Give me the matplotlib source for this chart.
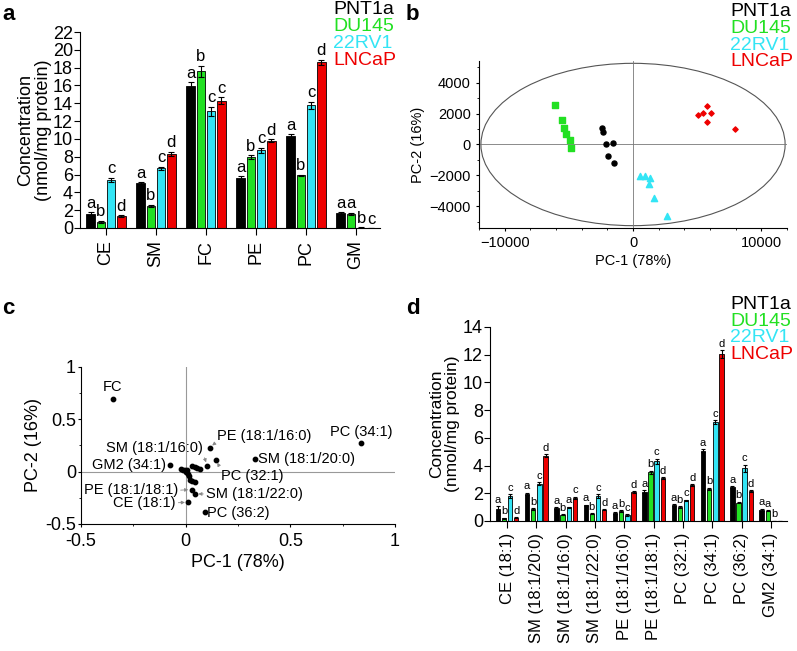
import matplotlib
matplotlib.use('Agg')
import matplotlib.pyplot as plt
import numpy as np
from matplotlib.patches import Ellipse

plt.rcParams['font.family'] = ['Liberation Sans', 'DejaVu Sans']

# ---------------------------
# Data
# ---------------------------
lines = ['PNT1a', 'DU145', '22RV1', 'LNCaP']
colors = ['#000000', '#22e022', '#33e5f5', '#ee0000']

# panel a: lipid classes
classes_a = ['CE', 'SM', 'FC', 'PE', 'PC', 'GM']
a_pnt1a = [1.6, 5.0, 15.9, 5.6, 10.3, 1.7]
a_du145 = [0.7, 2.5, 17.6, 8.0, 5.9, 1.6]
a_22rv1 = [5.4, 6.7, 13.1, 8.7, 13.8, 0.05]
a_lncap = [1.35, 8.3, 14.3, 9.8, 18.6, 0.0]
a_err_pnt1a = [0.15, 0.15, 0.5, 0.2, 0.2, 0.1]
a_err_du145 = [0.1, 0.1, 0.6, 0.2, 0.1, 0.1]
a_err_22rv1 = [0.25, 0.2, 0.5, 0.3, 0.4, 0.02]
a_err_lncap = [0.1, 0.25, 0.35, 0.15, 0.3, 0.0]
a_letters = [['a', 'b', 'c', 'd'], ['a', 'b', 'c', 'd'], ['a', 'b', 'c', 'c'],
             ['a', 'b', 'c', 'd'], ['a', 'b', 'c', 'd'], ['a', 'a', 'b', 'c']]

# panel b: PCA scores
pnt1a_x = [-2410, -2300, -2070, -1530, -1940, -1450]
pnt1a_y = [1080, 840, 40, 90, -760, -1210]
du145_x = [-6090, -5570, -5340, -5210, -4920, -4820]
du145_y = [2550, 1580, 1080, 690, 320, -220]
rv1_x = [520, 930, 1350, 1240, 1660, 2670]
rv1_y = [-2010, -2030, -2160, -2530, -3440, -4630]
lncap_x = [5030, 5470, 5800, 6060, 5730, 7930]
lncap_y = [1900, 2050, 2510, 2010, 1450, 970]

# panel c: PCA loadings
load_x = [-0.348, 0.837, 0.332, 0.114, 0.103, -0.076, 0.143, 0.029, 0.044, 0.013, 0.092,
          -0.024, -0.013, -0.003, 0.008, 0.003, 0.013, 0.016, 0.021, 0.032, 0.044,
          0.032, 0.044, 0.056, 0.068]
load_y = [0.692, 0.27, 0.117, 0.229, 0.057, 0.06, 0.114, -0.171, -0.213, -0.292, -0.39,
          0.026, 0.019, 0.013, 0.019, -0.006, -0.019, -0.044, -0.076, -0.092, -0.098,
          0.051, 0.045, 0.035, 0.029]
load_names = ['FC', 'PC (34:1)', 'SM (18:1/20:0)', 'PE (18:1/16:0)', 'SM (18:1/16:0)',
              'GM2 (34:1)', 'PC (32:1)', 'PE (18:1/18:1)', 'SM (18:1/22:0)', 'CE (18:1)',
              'PC (36:2)']

# panel d: lipid species
species_d = ['CE (18:1)', 'SM (18:1/20:0)', 'SM (18:1/16:0)', 'SM (18:1/22:0)',
             'PE (18:1/16:0)', 'PE (18:1/18:1)', 'PC (32:1)', 'PC (34:1)',
             'PC (36:2)', 'GM2 (34:1)']
d_pnt1a = [0.84, 1.95, 0.94, 1.13, 0.58, 2.12, 1.16, 5.08, 2.46, 0.8]
d_du145 = [0.2, 0.87, 0.46, 0.53, 0.72, 3.52, 1.01, 2.31, 1.33, 0.75]
d_22rv1 = [1.8, 2.7, 0.99, 1.78, 0.43, 4.31, 1.49, 7.12, 3.81, 0.02]
d_lncap = [0.24, 4.72, 1.66, 0.8, 2.1, 3.11, 2.6, 12.04, 2.14, 0.0]
d_err_pnt1a = [0.25, 0.08, 0.06, 0.05, 0.05, 0.12, 0.05, 0.1, 0.06, 0.08]
d_err_du145 = [0.03, 0.05, 0.04, 0.04, 0.04, 0.1, 0.04, 0.08, 0.05, 0.05]
d_err_22rv1 = [0.15, 0.08, 0.04, 0.15, 0.04, 0.2, 0.06, 0.15, 0.25, 0.01]
d_err_lncap = [0.03, 0.12, 0.08, 0.04, 0.05, 0.06, 0.05, 0.3, 0.08, 0.0]
d_letters = [['a', 'b', 'c', 'd'], ['a', 'b', 'c', 'd'], ['a', 'b', 'a', 'c'],
             ['a', 'b', 'c', 'd'], ['a', 'b', 'c', 'd'], ['a', 'b', 'c', 'd'],
             ['a', 'b', 'c', 'd'], ['a', 'b', 'c', 'd'], ['a', 'b', 'c', 'd'],
             ['a', 'a', 'b', '']]

fig = plt.figure(figsize=(7.97, 6.51), dpi=100)


def style_axes(ax):
    ax.spines['top'].set_visible(False)
    ax.spines['right'].set_visible(False)


def draw_legend(x0, y0, dy, size):
    for i, (name, c) in enumerate(zip(lines, colors)):
        fig.text(x0, y0 - i * dy, name, color=c, fontsize=size, va='center', ha='left')


def grouped_bars(ax, vals, errs, letters, pitch, width, lsize, capsize):
    x = np.arange(len(vals[0]))
    for j in range(4):
        xs = x + (j - 1.5) * pitch
        ax.bar(xs, vals[j], width, color=colors[j], edgecolor='black', linewidth=0.6,
               yerr=errs[j], capsize=capsize,
               error_kw=dict(elinewidth=0.8, capthick=0.8, ecolor='black'))
        for k in range(len(x)):
            ax.annotate(letters[k][j], (xs[k], vals[j][k] + errs[j][k]),
                        xytext=(0, 1), textcoords='offset points',
                        ha='center', va='bottom', fontsize=lsize)
    return x


# ---------------------------
# Panel a
# ---------------------------
ax_a = fig.add_axes([0.1004, 0.6498, 0.3764, 0.3010])
x = grouped_bars(ax_a, [a_pnt1a, a_du145, a_22rv1, a_lncap],
                 [a_err_pnt1a, a_err_du145, a_err_22rv1, a_err_lncap],
                 a_letters, 0.205, 0.17, 12, 2)
ax_a.set_xlim(-0.52, 5.48)
ax_a.set_ylim(0, 22)
ax_a.set_yticks(np.arange(0, 23, 2))
ax_a.set_xticks(x)
ax_a.set_xticklabels(classes_a, rotation=90, fontsize=13)
ax_a.tick_params(axis='y', labelsize=13, length=4, pad=1)
ax_a.tick_params(axis='x', length=5)
ax_a.set_ylabel('Concentration\n(nmol/mg protein)', fontsize=13, labelpad=1, linespacing=1.05)
style_axes(ax_a)

# ---------------------------
# Panel b
# ---------------------------
ax_b = fig.add_axes([0.601, 0.6498, 0.3865, 0.2565])
ax_b.add_patch(Ellipse((0, 0), 23700, 10500, fill=False, edgecolor='#555555', linewidth=0.8))
ax_b.axhline(0, color='#777777', lw=0.6)
ax_b.axvline(0, color='#777777', lw=0.6)
ax_b.scatter(pnt1a_x, pnt1a_y, marker='o', s=13, color=colors[0], zorder=3)
ax_b.scatter(du145_x, du145_y, marker='s', s=14, color=colors[1], zorder=3)
ax_b.scatter(rv1_x, rv1_y, marker='^', s=20, color=colors[2], zorder=3)
ax_b.scatter(lncap_x, lncap_y, marker='D', s=7, color=colors[3], zorder=3)
ax_b.set_xlim(-12000, 12000)
ax_b.set_ylim(-5400, 5400)
ax_b.set_xticks([-10000, 0, 10000])
ax_b.set_yticks([-4000, -2000, 0, 2000, 4000])
ax_b.set_yticks(np.arange(-5000, 5001, 1000), minor=True)
ax_b.set_xticks(np.arange(-12000, 12001, 2000), minor=True)
ax_b.tick_params(labelsize=10.5, length=2.5)
ax_b.tick_params(which='minor', length=1.5)
ax_b.set_xlabel('PC-1 (78%)', fontsize=10.5, labelpad=3)
ax_b.set_ylabel('PC-2 (16%)', fontsize=10.5, labelpad=3)
style_axes(ax_b)

# ---------------------------
# Panel c
# ---------------------------
ax_c = fig.add_axes([0.1016, 0.1951, 0.3940, 0.2412])
ax_c.axhline(0, color='#999999', lw=0.8)
ax_c.axvline(0, color='#999999', lw=0.8)
ax_c.scatter(load_x, load_y, s=10, color='black', zorder=3)
arrow = dict(arrowstyle='-|>', color='#888888', lw=0.6, mutation_scale=5, shrinkA=0, shrinkB=2.5)
# label placement: (text x, text y, ha, va, arrow start rel pos or None)
label_pos = [(-0.348, 0.74, 'center', 'bottom', None),
             (0.838, 0.31, 'center', 'bottom', None),
             (0.344, 0.121, 'left', 'center', None),
             (0.377, 0.343, 'center', 'center', (0.0, 0.1)),
             (-0.148, 0.226, 'center', 'center', (1.0, 0.1)),
             (-0.092, 0.06, 'right', 'center', None),
             (0.32, -0.038, 'center', 'center', (0.0, 0.9)),
             (-0.037, -0.178, 'right', 'center', (1.0, 0.5)),
             (0.098, -0.213, 'left', 'center', (0.0, 0.5)),
             (-0.048, -0.298, 'right', 'center', (1.0, 0.5)),
             (0.103, -0.397, 'left', 'center', None)]
for i, name in enumerate(load_names):
    tx, ty, ha, va, rp = label_pos[i]
    if rp is None:
        ax_c.text(tx, ty, name, ha=ha, va=va, fontsize=10.5)
    else:
        ap = dict(arrow, relpos=rp)
        ax_c.annotate(name, (load_x[i], load_y[i]), xytext=(tx, ty), ha=ha, va=va,
                      fontsize=10.5, arrowprops=ap)
ax_c.set_xlim(-0.5, 1)
ax_c.set_ylim(-0.5, 1)
ax_c.set_xticks([-0.5, 0, 0.5, 1])
ax_c.set_xticklabels(['-0.5', '0', '0.5', '1'])
ax_c.set_yticks([-0.5, 0, 0.5, 1])
ax_c.set_yticklabels(['-0.5', '0', '0.5', '1'])
ax_c.set_xticks(np.arange(-0.5, 1.01, 0.25), minor=True)
ax_c.set_yticks(np.arange(-0.5, 1.01, 0.25), minor=True)
ax_c.tick_params(axis='y', labelsize=13, length=2.5, pad=1)
ax_c.tick_params(axis='x', labelsize=13, length=2.5, pad=4)
ax_c.tick_params(which='minor', length=1.5)
ax_c.set_xlabel('PC-1 (78%)', fontsize=13, labelpad=3)
ax_c.set_ylabel('PC-2 (16%)', fontsize=13, labelpad=2)
style_axes(ax_c)

# ---------------------------
# Panel d
# ---------------------------
ax_d = fig.add_axes([0.6148, 0.1997, 0.3727, 0.2980])
x = grouped_bars(ax_d, [d_pnt1a, d_du145, d_22rv1, d_lncap],
                 [d_err_pnt1a, d_err_du145, d_err_22rv1, d_err_lncap],
                 d_letters, 0.21, 0.15, 8, 1.2)
ax_d.set_xlim(-0.58, 9.55)
ax_d.set_ylim(0, 14)
ax_d.set_yticks(np.arange(0, 15, 2))
ax_d.set_xticks(x)
ax_d.set_xticklabels(species_d, rotation=90, fontsize=12)
ax_d.tick_params(axis='y', labelsize=13, length=4, pad=1)
ax_d.tick_params(axis='x', length=5)
ax_d.set_ylabel('Concentration\n(nmol/mg protein)', fontsize=12.5, labelpad=2, linespacing=1.05)
style_axes(ax_d)

# ---------------------------
# Legends and panel letters
# ---------------------------
draw_legend(333 / 797, 1 - 10 / 651, 16.7 / 651, 14)
draw_legend(730 / 797, 1 - 12 / 651, 16.5 / 651, 14)
draw_legend(730 / 797, 1 - 305 / 651, 16.5 / 651, 14)

fig.text(0.003, 1 - 14 / 651, 'a', fontsize=16, fontweight='bold', va='center')
fig.text(406 / 797, 1 - 14 / 651, 'b', fontsize=16, fontweight='bold', va='center')
fig.text(0.003, 1 - 308 / 651, 'c', fontsize=16, fontweight='bold', va='center')
fig.text(406 / 797, 1 - 308 / 651, 'd', fontsize=16, fontweight='bold', va='center')

plt.savefig('out.png', dpi=100)
